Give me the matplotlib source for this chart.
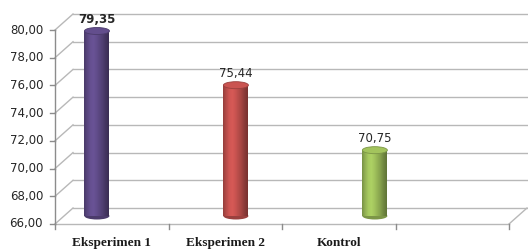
import numpy as np
import matplotlib
matplotlib.use("Agg")
import matplotlib.pyplot as plt
from matplotlib.colors import LinearSegmentedColormap, to_rgb
from matplotlib.patches import Ellipse

categories = ["Eksperimen 1", "Eksperimen 2", "Kontrol"]
values = [79.35, 75.44, 70.75]
value_labels = ["79,35", "75,44", "70,75"]
colors = ["#5e4a86", "#c0504d", "#9bbb59"]
y_ticks = [66, 68, 70, 72, 74, 76, 78, 80]
y_tick_labels = ["66,00", "68,00", "70,00", "72,00", "74,00", "76,00", "78,00", "80,00"]

W, H, DPI = 528, 250, 100
fig = plt.figure(figsize=(W / DPI, H / DPI), dpi=DPI)
fig.patch.set_facecolor("white")

# mid-depth plane of the 3d box, in pixels
left_px, right_px, top_px, bot_px = 64, 518, 22, 216
ax = fig.add_axes([left_px / W, 1 - bot_px / H, (right_px - left_px) / W, (bot_px - top_px) / H])
ax.set_axis_off()

x = np.arange(len(categories))
x0, x1 = -0.237, 3.03
y0, y1 = 66, 80
ax.set_xlim(x0, x1)
ax.set_ylim(y0, y1)

ppx = (right_px - left_px) / (x1 - x0)   # pixels per x unit
ppy = (bot_px - top_px) / (y1 - y0)      # pixels per y unit
dx, dy = 9 / ppx, 8 / ppy                # depth offset (half)

grid = "#b8b8b8"
kw = dict(color=grid, lw=1.0, clip_on=False, zorder=1)

# back wall gridlines + left wall diagonals
for v in y_ticks:
    ax.plot([x0 + dx, x1 + dx], [v + dy, v + dy], **kw)
    ax.plot([x0 - dx, x0 + dx], [v - dy, v + dy], **kw)
# floor front edge and right diagonal
ax.plot([x0 - dx, x1 - dx], [y0 - dy, y0 - dy], **kw)
ax.plot([x1 - dx, x1 + dx], [y0 - dy, y0 + dy], **kw)

# front value axis
ax.plot([x0 - dx, x0 - dx], [y0 - dy, y1 - dy], color="#8c8c8c", lw=1.0, clip_on=False, zorder=2)
for v, lab in zip(y_ticks, y_tick_labels):
    ax.plot([x0 - dx - 5 / ppx, x0 - dx], [v - dy, v - dy], color="#8c8c8c", lw=1.0, clip_on=False)
    ax.text(x0 - dx - 12 / ppx, v - dy, lab, ha="right", va="center", fontsize=8.5,
            color="#262626", family="DejaVu Sans")

# category ticks on the front floor edge
slot = (x1 - x0) / 4
for i in range(5):
    xt = x0 - dx + i * slot
    ax.plot([xt, xt], [y0 - dy, y0 - dy - 5 / ppy], color="#8c8c8c", lw=1.0, clip_on=False)
for i, c in enumerate(categories):
    ax.text(x0 - dx + (i + 0.5) * slot, y0 - dy - 19 / ppy, c, ha="center", va="center",
            fontsize=9.5, fontweight="bold", family="Liberation Serif", color="#1a1a1a")

# cylinders
bw = 25 / ppx
eh = 7 / ppy
shade = np.array([0.78, 0.95, 1.08, 1.12, 1.05, 0.95, 0.85, 0.72, 0.62])
for xi, v, col, lab, i in zip(x, values, colors, value_labels, range(3)):
    base = np.array(to_rgb(col))
    cols = [np.clip(base * s, 0, 1) for s in shade]
    cmap = LinearSegmentedColormap.from_list("cyl%d" % i, cols)
    ax.add_patch(Ellipse((xi, y0), bw, eh, facecolor=np.clip(base * 0.8, 0, 1),
                         edgecolor="none", zorder=3, clip_on=False))
    grad = np.linspace(0, 1, 64)[None, :]
    ax.imshow(grad, cmap=cmap, aspect="auto", extent=[xi - bw / 2, xi + bw / 2, y0, v],
              zorder=4, interpolation="bilinear", clip_on=False)
    ax.add_patch(Ellipse((xi, v), bw, eh, facecolor=np.clip(base * 1.05, 0, 1),
                         edgecolor=np.clip(base * 0.8, 0, 1), lw=0.6, zorder=5, clip_on=False))
    ax.text(xi, v + 12 / ppy, lab, ha="center", va="center", fontsize=8.5,
            fontweight="bold" if i == 0 else "normal", color="#262626", family="DejaVu Sans",
            zorder=6)

ax.set_xlim(x0, x1)
ax.set_ylim(y0, y1)
fig.savefig("out.png", dpi=DPI)
